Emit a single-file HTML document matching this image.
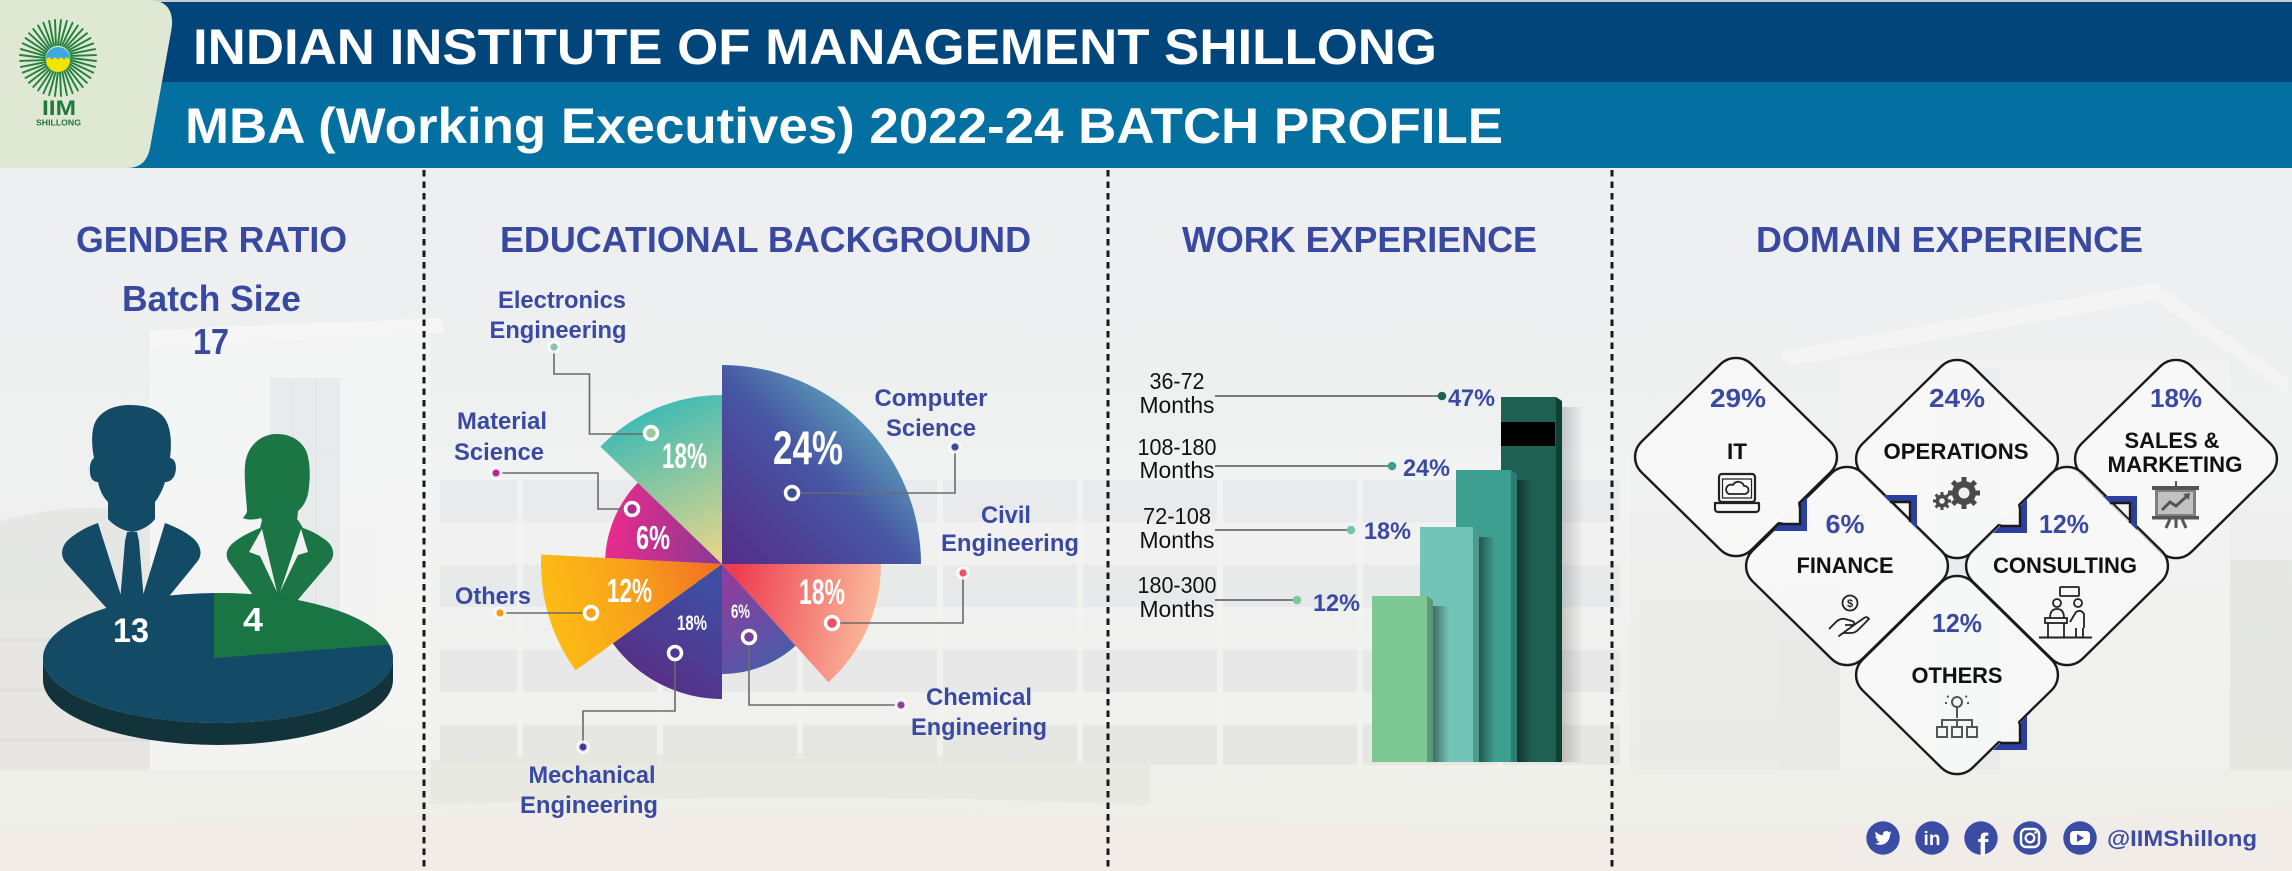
<!DOCTYPE html>
<html><head><meta charset="utf-8"><style>
html,body{margin:0;padding:0;background:#eeeff1;}
svg{display:block;}
text{font-family:"Liberation Sans",Arial,sans-serif;}
</style></head><body>
<svg width="2292" height="871" viewBox="0 0 2292 871" xmlns="http://www.w3.org/2000/svg">
<defs>
<linearGradient id="bg" x1="0" y1="0" x2="0" y2="1">
<stop offset="0" stop-color="#edeef1"/><stop offset="0.55" stop-color="#eff0f0"/><stop offset="0.86" stop-color="#ecece7"/><stop offset="1" stop-color="#f1ece9"/>
</linearGradient>
<linearGradient id="gCS" gradientUnits="userSpaceOnUse" x1="905" y1="390" x2="735" y2="560"><stop offset="0" stop-color="#68c5c3"/><stop offset="0.5" stop-color="#4655a4"/><stop offset="1" stop-color="#55308a"/></linearGradient>
<linearGradient id="gCivil" gradientUnits="userSpaceOnUse" x1="730" y1="600" x2="880" y2="625"><stop offset="0" stop-color="#ee3d4f"/><stop offset="1" stop-color="#fbbf9f"/></linearGradient>
<linearGradient id="gChem" gradientUnits="userSpaceOnUse" x1="730" y1="580" x2="800" y2="665"><stop offset="0" stop-color="#8e3e9c"/><stop offset="1" stop-color="#4060ab"/></linearGradient>
<linearGradient id="gMech" gradientUnits="userSpaceOnUse" x1="712" y1="590" x2="640" y2="695"><stop offset="0" stop-color="#3f4ea3"/><stop offset="1" stop-color="#5b2a83"/></linearGradient>
<linearGradient id="gOth" gradientUnits="userSpaceOnUse" x1="545" y1="620" x2="720" y2="575"><stop offset="0" stop-color="#fdbd14"/><stop offset="0.5" stop-color="#f8a21b"/><stop offset="1" stop-color="#f26f22"/></linearGradient>
<linearGradient id="gMat" gradientUnits="userSpaceOnUse" x1="605" y1="530" x2="715" y2="540"><stop offset="0" stop-color="#ec2a8c"/><stop offset="1" stop-color="#8e3a92"/></linearGradient>
<linearGradient id="gElec" gradientUnits="userSpaceOnUse" x1="640" y1="410" x2="712" y2="560"><stop offset="0" stop-color="#3dbab4"/><stop offset="1" stop-color="#e3d68a"/></linearGradient>
<linearGradient id="sh" x1="0" y1="0" x2="1" y2="0"><stop offset="0" stop-color="#000" stop-opacity="0.45"/><stop offset="1" stop-color="#000" stop-opacity="0"/></linearGradient>
<linearGradient id="sh2" x1="0" y1="0" x2="1" y2="0"><stop offset="0" stop-color="#000" stop-opacity="0.18"/><stop offset="1" stop-color="#000" stop-opacity="0"/></linearGradient>
<line id="ray" x1="58" y1="45" x2="61" y2="20" stroke="#22803f" stroke-width="1.9" stroke-linecap="round"/>
<rect id="dia" x="-77.8" y="-77.8" width="155.6" height="155.6" rx="22"/>
</defs>

<!-- background -->
<rect width="2292" height="871" fill="url(#bg)"/>
<g opacity="0.55">
<path d="M0,522 Q70,500 150,512 L150,610 L0,610 Z" fill="#dfe2dc"/>
<rect x="0" y="600" width="150" height="180" fill="#e3e2df"/>
<g stroke="#d6d6d3" stroke-width="3"><line x1="0" y1="640" x2="150" y2="640"/><line x1="0" y1="690" x2="150" y2="690"/><line x1="0" y1="740" x2="150" y2="740"/></g>
</g>
<g opacity="0.7">
<polygon points="150,345 430,330 430,790 150,790" fill="#f6f6f6"/>
<polygon points="150,330 440,318 445,332 150,348" fill="#fafafa"/>
<rect x="270" y="378" width="70" height="330" fill="#e6e9ec"/>
<g stroke="#dde1e5" stroke-width="1.5"><line x1="293" y1="378" x2="293" y2="708"/><line x1="316" y1="378" x2="316" y2="708"/><line x1="270" y1="450" x2="340" y2="450"/><line x1="270" y1="530" x2="340" y2="530"/><line x1="270" y1="610" x2="340" y2="610"/></g>
</g>
<g opacity="0.5">
<rect x="430" y="450" width="1200" height="330" fill="#f4f4f4"/>
<rect x="440" y="480" width="1180" height="42" fill="#e4e6e9"/>
<rect x="440" y="565" width="1180" height="42" fill="#e4e6e9"/>
<rect x="440" y="650" width="1180" height="42" fill="#e3e5e6"/>
<rect x="440" y="725" width="1180" height="40" fill="#e2e3df"/>
<g stroke="#f6f6f6" stroke-width="6">
<line x1="520" y1="470" x2="520" y2="770"/><line x1="660" y1="470" x2="660" y2="770"/><line x1="800" y1="470" x2="800" y2="770"/><line x1="940" y1="470" x2="940" y2="770"/><line x1="1080" y1="470" x2="1080" y2="770"/><line x1="1220" y1="470" x2="1220" y2="770"/><line x1="1360" y1="470" x2="1360" y2="770"/><line x1="1500" y1="470" x2="1500" y2="770"/>
</g>
</g>
<g opacity="0.6">
<polygon points="1780,352 2155,283 2288,380 2288,394 2155,300 1790,366" fill="#f8f8f8"/>
<rect x="1840" y="360" width="390" height="420" fill="#f4f4f4"/>
<rect x="1935" y="368" width="65" height="412" fill="#e7eaed"/>
<rect x="2230" y="560" width="62" height="220" fill="#e1e3dd"/>
<rect x="1640" y="600" width="200" height="180" fill="#e8e9e8"/>
</g>
<path d="M0,770 L2292,770 L2292,871 L0,871 Z" fill="#eeefe9"/>
<path d="M430,760 Q800,745 1150,765 L1150,805 Q800,790 430,805 Z" fill="#e6e9df" opacity="0.8"/>
<path d="M0,830 Q600,800 1200,820 T2292,805 L2292,871 L0,871 Z" fill="#f2ece9"/>

<!-- header -->
<rect x="0" y="0" width="2292" height="83" fill="#02457a"/>
<rect x="0" y="82" width="2292" height="86" fill="#0470a2"/>
<rect x="0" y="0" width="2292" height="2" fill="#c4ced8"/>
<path d="M0,0 H148 C168,0 175,12 171,32 L150,148 C147,162 140,168 126,168 H0 Z" fill="#dfe8d2"/>
<g>
<use href="#ray" transform="rotate(0 58 58)"/><use href="#ray" transform="rotate(9 58 58)"/><use href="#ray" transform="rotate(18 58 58)"/><use href="#ray" transform="rotate(27 58 58)"/><use href="#ray" transform="rotate(36 58 58)"/><use href="#ray" transform="rotate(45 58 58)"/><use href="#ray" transform="rotate(54 58 58)"/><use href="#ray" transform="rotate(63 58 58)"/><use href="#ray" transform="rotate(72 58 58)"/><use href="#ray" transform="rotate(81 58 58)"/><use href="#ray" transform="rotate(90 58 58)"/><use href="#ray" transform="rotate(99 58 58)"/><use href="#ray" transform="rotate(108 58 58)"/><use href="#ray" transform="rotate(117 58 58)"/><use href="#ray" transform="rotate(126 58 58)"/><use href="#ray" transform="rotate(135 58 58)"/><use href="#ray" transform="rotate(144 58 58)"/><use href="#ray" transform="rotate(153 58 58)"/><use href="#ray" transform="rotate(162 58 58)"/><use href="#ray" transform="rotate(171 58 58)"/><use href="#ray" transform="rotate(180 58 58)"/><use href="#ray" transform="rotate(189 58 58)"/><use href="#ray" transform="rotate(198 58 58)"/><use href="#ray" transform="rotate(207 58 58)"/><use href="#ray" transform="rotate(216 58 58)"/><use href="#ray" transform="rotate(225 58 58)"/><use href="#ray" transform="rotate(234 58 58)"/><use href="#ray" transform="rotate(243 58 58)"/><use href="#ray" transform="rotate(252 58 58)"/><use href="#ray" transform="rotate(261 58 58)"/><use href="#ray" transform="rotate(270 58 58)"/><use href="#ray" transform="rotate(279 58 58)"/><use href="#ray" transform="rotate(288 58 58)"/><use href="#ray" transform="rotate(297 58 58)"/><use href="#ray" transform="rotate(306 58 58)"/><use href="#ray" transform="rotate(315 58 58)"/><use href="#ray" transform="rotate(324 58 58)"/><use href="#ray" transform="rotate(333 58 58)"/><use href="#ray" transform="rotate(342 58 58)"/><use href="#ray" transform="rotate(351 58 58)"/>
</g>
<circle cx="58" cy="59" r="12" fill="#3da9e2"/>
<path d="M46,60 Q49,55 52,60 Q55,55 58,60 Q61,55 64,60 Q67,55 70,60 A12,12 0 0 1 46,60 Z" fill="#f3e500"/>
<text x="42" y="115" font-size="21" font-weight="bold" fill="#1f7a3c" textLength="34" lengthAdjust="spacingAndGlyphs">IIM</text>
<text x="36" y="125.5" font-size="8.5" font-weight="bold" fill="#1f7a3c" textLength="45" lengthAdjust="spacingAndGlyphs">SHILLONG</text>
<text x="193" y="64" font-size="50" font-weight="bold" fill="#ffffff" textLength="1244" lengthAdjust="spacingAndGlyphs">INDIAN INSTITUTE OF MANAGEMENT SHILLONG</text>
<text x="185" y="143" font-size="50" font-weight="bold" fill="#ffffff" textLength="1318" lengthAdjust="spacingAndGlyphs">MBA (Working Executives) 2022-24 BATCH PROFILE</text>

<!-- separators -->
<g stroke="#1a1a1a" stroke-width="3" stroke-dasharray="6.5 5">
<line x1="424" y1="170" x2="424" y2="871"/>
<line x1="1108" y1="170" x2="1108" y2="871"/>
<line x1="1612" y1="170" x2="1612" y2="871"/>
</g>

<!-- section titles -->
<g font-size="36" font-weight="bold" fill="#3949a0">
<text x="76" y="252" textLength="271" lengthAdjust="spacingAndGlyphs">GENDER RATIO</text>
<text x="500" y="252" textLength="531" lengthAdjust="spacingAndGlyphs">EDUCATIONAL BACKGROUND</text>
<text x="1182" y="252" textLength="355" lengthAdjust="spacingAndGlyphs">WORK EXPERIENCE</text>
<text x="1756" y="252" textLength="387" lengthAdjust="spacingAndGlyphs">DOMAIN EXPERIENCE</text>
<text x="122" y="311" textLength="179" lengthAdjust="spacingAndGlyphs">Batch Size</text>
<text x="193" y="354" textLength="36" lengthAdjust="spacingAndGlyphs">17</text>
</g>

<!-- gender silhouettes -->
<g fill="#134a65">
<path d="M130,405 C150,405 164,412 168,425 C172,436 171,450 170,458 C176,459 177,467 175,474 C173,480 169,482 165,482 C162,492 158,498 155,502 L155,519 C150,526 140,531 132,532 C124,531 114,526 108,519 L108,502 C104,498 100,492 98,482 C93,482 90,478 90,472 C89,464 92,459 94,458 C92,448 91,436 94,425 C99,412 112,405 130,405 Z"/>
<path d="M98,523 L124,605 L110,612 L66,563 C60,556 61,547 68,540 C76,533 86,527 98,523 Z"/>
<path d="M165,523 L140,605 L162,605 L197,562 C203,555 201,546 194,539 C186,532 176,527 165,523 Z"/>
<path d="M127,532 L137,532 L139,541 L144,602 L132,610 L120,602 L125,541 Z"/>
</g>
<g fill="#1b7544">
<path d="M277,434 C292,434 303,442 307,453 C311,466 310,482 308,494 C306,502 302,508 298,511 L297,522 L263,522 L261,518 C254,520 246,520 243,518 C245,515 247,514 247,510 C246,495 244,480 245,466 C246,448 259,434 277,434 Z"/>
<path d="M262,520 L298,520 L303,528 C312,531 321,536 328,542 C334,548 335,556 330,562 L296,602 L258,602 L229,562 C225,556 226,549 233,543 C240,537 250,532 260,528 Z"/>
</g>
<g fill="#f1f1f1">
<polygon points="262,529 249,552 260,556 277,592"/>
<polygon points="301,529 308,552 298,555 280,592"/>
</g>
<!-- gender pie -->
<path d="M43,658 L43,680 A175,65 0 0 0 393,680 L393,658 A175,65 0 0 1 43,658 Z" fill="#13333b"/>
<ellipse cx="218" cy="658" rx="175" ry="65" fill="#134b66"/>
<path d="M214,658 L214,593.05 A175,65 0 0 1 389,644.5 Z" fill="#1a7544"/>
<text x="113" y="642" font-size="34" font-weight="bold" fill="#ffffff" textLength="36" lengthAdjust="spacingAndGlyphs">13</text>
<text x="243" y="631" font-size="33" font-weight="bold" fill="#ffffff" textLength="20" lengthAdjust="spacingAndGlyphs">4</text>

<!-- educational pie -->
<path d="M722,564 L722,365 A199,199 0 0 1 921,564 Z" fill="url(#gCS)"/>
<path d="M722,564 L881,564 A159,159 0 0 1 828.4,682.2 Z" fill="url(#gCivil)"/>
<path d="M722,564 L795.6,645.7 A110,110 0 0 1 722,674 Z" fill="url(#gChem)"/>
<path d="M722,564 L722,699 A135,135 0 0 1 612.8,643.4 Z" fill="url(#gMech)"/>
<path d="M722,564 L575.6,670.4 A181,181 0 0 1 541.25,554.5 Z" fill="url(#gOth)"/>
<path d="M722,564 L605.2,557.9 A117,117 0 0 1 637.8,482.7 Z" fill="url(#gMat)"/>
<path d="M722,564 L600.4,446.6 A169,169 0 0 1 722,395 Z" fill="url(#gElec)"/>

<!-- connectors -->
<g fill="none" stroke="#6a6a6a" stroke-width="1.6">
<polyline points="554,347 554,374 589.5,374 589.5,434 651,434"/>
<polyline points="496,473 598,473 598,509 632,509"/>
<polyline points="500,613 591,613"/>
<polyline points="675,653 675,711 583,711 583,747"/>
<polyline points="749,637 749,705 901,705"/>
<polyline points="832,623 963,623 963,573"/>
<polyline points="792,493 955,493 955,447"/>
</g>
<g stroke="#ffffff" stroke-width="3.5">
<circle cx="651" cy="433" r="6.5" fill="#9fc79c"/>
<circle cx="632" cy="509" r="6.5" fill="#a8308e"/>
<circle cx="591" cy="613" r="6.5" fill="#f5a020"/>
<circle cx="675" cy="653" r="6.5" fill="#4a3a98"/>
<circle cx="749" cy="637" r="6.5" fill="#7a3f9c"/>
<circle cx="832" cy="623" r="6.5" fill="#ee5060"/>
<circle cx="792" cy="493" r="6.5" fill="#3d4f95"/>
</g>
<g stroke="#ffffff" stroke-opacity="0.85" stroke-width="3">
<circle cx="554" cy="347" r="5" fill="#86c6a4"/>
<circle cx="496" cy="473" r="5" fill="#b52a90"/>
<circle cx="500" cy="613" r="5" fill="#f39c1a"/>
<circle cx="583" cy="747" r="5" fill="#40399a"/>
<circle cx="901" cy="705" r="5" fill="#8b3f9c"/>
<circle cx="963" cy="573" r="5" fill="#ee4f5f"/>
<circle cx="955" cy="447" r="5" fill="#3a4d8f"/>
</g>
<!-- pie percents -->
<g font-weight="bold" fill="#ffffff">
<text x="773" y="464" font-size="47" textLength="70" lengthAdjust="spacingAndGlyphs">24%</text>
<text x="662" y="468" font-size="35" textLength="45" lengthAdjust="spacingAndGlyphs">18%</text>
<text x="636" y="549" font-size="33" textLength="34" lengthAdjust="spacingAndGlyphs">6%</text>
<text x="607" y="602" font-size="33" textLength="45" lengthAdjust="spacingAndGlyphs">12%</text>
<text x="677" y="630" font-size="21" textLength="30" lengthAdjust="spacingAndGlyphs">18%</text>
<text x="731" y="618" font-size="19" textLength="19" lengthAdjust="spacingAndGlyphs">6%</text>
<text x="799" y="604" font-size="35" textLength="46" lengthAdjust="spacingAndGlyphs">18%</text>
</g>
<!-- edu labels -->
<g font-size="24" font-weight="bold" fill="#3a4aa2" text-anchor="middle">
<text x="562" y="308" textLength="128" lengthAdjust="spacingAndGlyphs">Electronics</text>
<text x="558" y="338" textLength="137" lengthAdjust="spacingAndGlyphs">Engineering</text>
<text x="502" y="429" textLength="90" lengthAdjust="spacingAndGlyphs">Material</text>
<text x="499" y="460" textLength="90" lengthAdjust="spacingAndGlyphs">Science</text>
<text x="493" y="604" textLength="76" lengthAdjust="spacingAndGlyphs">Others</text>
<text x="592" y="783" textLength="127" lengthAdjust="spacingAndGlyphs">Mechanical</text>
<text x="589" y="813" textLength="138" lengthAdjust="spacingAndGlyphs">Engineering</text>
<text x="979" y="705" textLength="106" lengthAdjust="spacingAndGlyphs">Chemical</text>
<text x="979" y="735" textLength="136" lengthAdjust="spacingAndGlyphs">Engineering</text>
<text x="1006" y="523" textLength="50" lengthAdjust="spacingAndGlyphs">Civil</text>
<text x="1010" y="551" textLength="138" lengthAdjust="spacingAndGlyphs">Engineering</text>
<text x="931" y="406" textLength="113" lengthAdjust="spacingAndGlyphs">Computer</text>
<text x="931" y="436" textLength="90" lengthAdjust="spacingAndGlyphs">Science</text>
</g>

<!-- work experience bars -->
<rect x="1562" y="407" width="22" height="355" fill="url(#sh2)"/>
<rect x="1501" y="397" width="55" height="365" fill="#1e6152"/>
<polygon points="1556,397 1562,401 1562,762 1556,762" fill="#0c4133"/>
<rect x="1501" y="422" width="54" height="24" fill="#000000"/>
<rect x="1517" y="480" width="16" height="282" fill="url(#sh)"/>
<rect x="1456" y="470" width="55" height="292" fill="#3d9f8f"/>
<polygon points="1511,470 1517,474 1517,762 1511,762" fill="#2a7d70"/>
<rect x="1479" y="537" width="16" height="225" fill="url(#sh)"/>
<rect x="1420" y="527" width="53" height="235" fill="#72c5b6"/>
<polygon points="1473,527 1479,531 1479,762 1473,762" fill="#4f9a8d"/>
<rect x="1433" y="606" width="16" height="156" fill="url(#sh)"/>
<rect x="1372" y="596" width="55" height="166" fill="#7dc794"/>
<polygon points="1427,596 1433,600 1433,762 1427,762" fill="#5a9a74"/>

<g stroke="#555" stroke-width="1.6">
<line x1="1215" y1="396" x2="1442" y2="396"/>
<line x1="1215" y1="466" x2="1392" y2="466"/>
<line x1="1215" y1="530" x2="1351" y2="530"/>
<line x1="1215" y1="600" x2="1297" y2="600"/>
</g>
<circle cx="1442" cy="396" r="4.3" fill="#1e6152"/>
<circle cx="1392" cy="466" r="4.3" fill="#3d9f8f"/>
<circle cx="1351" cy="530" r="4.3" fill="#72c5b6"/>
<circle cx="1297" cy="600" r="4.3" fill="#7dc794"/>
<g font-size="23" fill="#111" text-anchor="middle">
<text x="1177" y="389" textLength="55" lengthAdjust="spacingAndGlyphs">36-72</text>
<text x="1177" y="413" textLength="75" lengthAdjust="spacingAndGlyphs">Months</text>
<text x="1177" y="455" textLength="79" lengthAdjust="spacingAndGlyphs">108-180</text>
<text x="1177" y="478" textLength="75" lengthAdjust="spacingAndGlyphs">Months</text>
<text x="1177" y="524" textLength="68" lengthAdjust="spacingAndGlyphs">72-108</text>
<text x="1177" y="548" textLength="75" lengthAdjust="spacingAndGlyphs">Months</text>
<text x="1177" y="593" textLength="79" lengthAdjust="spacingAndGlyphs">180-300</text>
<text x="1177" y="617" textLength="75" lengthAdjust="spacingAndGlyphs">Months</text>
</g>
<g font-size="24" font-weight="bold" fill="#3a4aa2">
<text x="1448" y="406" textLength="47" lengthAdjust="spacingAndGlyphs">47%</text>
<text x="1403" y="476" textLength="47" lengthAdjust="spacingAndGlyphs">24%</text>
<text x="1364" y="539" textLength="47" lengthAdjust="spacingAndGlyphs">18%</text>
<text x="1313" y="611" textLength="47" lengthAdjust="spacingAndGlyphs">12%</text>
</g>

<!-- domain diamonds -->
<g fill="#fafafa" fill-opacity="0.78" stroke="#1a1a1a" stroke-width="2.4">
<use href="#dia" transform="translate(1736,457) scale(1,0.982) rotate(45)"/>
<use href="#dia" transform="translate(1957,459) scale(1,0.982) rotate(45)"/>
<use href="#dia" transform="translate(2176,459) scale(1,0.982) rotate(45)"/>
<use href="#dia" transform="translate(1847,566) scale(1,0.982) rotate(45)"/>
<use href="#dia" transform="translate(2067,566) scale(1,0.982) rotate(45)"/>
<use href="#dia" transform="translate(1957,675) scale(1,0.982) rotate(45)"/>
</g>
<!-- notches -->
<g fill="#f7f7f7">
<polygon points="1778,522 1800,524 1798,502"/>
<polygon points="1892,500 1910,502 1912,520"/>
<polygon points="1998,524 2020,526 2018,504"/>
<polygon points="2112,501 2130,503 2132,521"/>
<polygon points="1998,741 2020,743 2018,721"/>
</g>
<g fill="#2b3f9e">
<polygon points="1780,524 1800,524 1800,504 1807,497 1807,531 1773,531"/>
<polygon points="1890,502 1910,502 1910,522 1917,529 1917,495 1883,495"/>
<polygon points="2000,526 2020,526 2020,506 2027,499 2027,533 1993,533"/>
<polygon points="2110,503 2130,503 2130,523 2137,530 2137,496 2103,496"/>
<polygon points="2000,743 2020,743 2020,723 2027,716 2027,750 1993,750"/>
</g>
<g fill="none" stroke="#1a1a1a" stroke-width="2.4">
<polyline points="1780,524 1800,524 1800,504"/>
<polyline points="1890,502 1910,502 1910,522"/>
<polyline points="2000,526 2020,526 2020,506"/>
<polyline points="2110,503 2130,503 2130,523"/>
<polyline points="2000,743 2020,743 2020,723"/>
</g>
<g font-size="26" font-weight="bold" fill="#3a4aa2" text-anchor="middle">
<text x="1738" y="407" textLength="56" lengthAdjust="spacingAndGlyphs">29%</text>
<text x="1957" y="407" textLength="56" lengthAdjust="spacingAndGlyphs">24%</text>
<text x="2176" y="407" textLength="52" lengthAdjust="spacingAndGlyphs">18%</text>
<text x="1845" y="533" textLength="39" lengthAdjust="spacingAndGlyphs">6%</text>
<text x="2064" y="533" textLength="50" lengthAdjust="spacingAndGlyphs">12%</text>
<text x="1957" y="632" textLength="50" lengthAdjust="spacingAndGlyphs">12%</text>
</g>
<g font-size="22" font-weight="bold" fill="#111" text-anchor="middle">
<text x="1737" y="459" textLength="20" lengthAdjust="spacingAndGlyphs">IT</text>
<text x="1956" y="459" textLength="145" lengthAdjust="spacingAndGlyphs">OPERATIONS</text>
<text x="2172" y="448" textLength="95" lengthAdjust="spacingAndGlyphs">SALES &amp;</text>
<text x="2175" y="472" textLength="135" lengthAdjust="spacingAndGlyphs">MARKETING</text>
<text x="1845" y="573" textLength="97" lengthAdjust="spacingAndGlyphs">FINANCE</text>
<text x="2065" y="573" textLength="144" lengthAdjust="spacingAndGlyphs">CONSULTING</text>
<text x="1957" y="683" textLength="91" lengthAdjust="spacingAndGlyphs">OTHERS</text>
</g>
<!-- domain icons -->
<g fill="none" stroke="#222" stroke-width="2.2" stroke-linejoin="round">
<rect x="1719" y="474" width="36" height="28" rx="3"/>
<rect x="1722.5" y="479" width="29" height="19" stroke-width="1.2"/>
<path d="M1729,494 h16 a4,4 0 0 0 -1,-8 a6,6 0 0 0 -11,-1 a4,4 0 0 0 -4,9 z" stroke-width="1.8"/>
<path d="M1715,503 h44 l0,6 a3,3 0 0 1 -3,3 h-38 a3,3 0 0 1 -3,-3 z"/>
</g>
<g fill="#4a4a4a">
<circle cx="1964" cy="493" r="12"/>
<g stroke="#4a4a4a" stroke-width="5">
<line x1="1964" y1="477" x2="1964" y2="509"/><line x1="1948" y1="493" x2="1980" y2="493"/>
<line x1="1952.7" y1="481.7" x2="1975.3" y2="504.3"/><line x1="1975.3" y1="481.7" x2="1952.7" y2="504.3"/>
</g>
<circle cx="1964" cy="493" r="5.5" fill="#f0f0f0"/>
<circle cx="1942" cy="501" r="6.5"/>
<g stroke="#4a4a4a" stroke-width="3">
<line x1="1942" y1="492" x2="1942" y2="510"/><line x1="1933" y1="501" x2="1951" y2="501"/>
<line x1="1935.6" y1="494.6" x2="1948.4" y2="507.4"/><line x1="1948.4" y1="494.6" x2="1935.6" y2="507.4"/>
</g>
<circle cx="1942" cy="501" r="2.8" fill="#f0f0f0"/>
</g>
<g>
<rect x="2175" y="481" width="2" height="5" fill="#555"/>
<rect x="2152" y="486" width="47" height="4" fill="#555"/>
<rect x="2155" y="490" width="41" height="26" fill="#7f7f7f"/>
<rect x="2158" y="492" width="35" height="22" fill="#c2c2c2"/>
<polyline points="2162,510 2170,502 2176,506 2187,496" fill="none" stroke="#555" stroke-width="3"/>
<polygon points="2183,494 2190,493 2189,500" fill="#555"/>
<rect x="2152" y="516" width="47" height="3.5" fill="#555"/>
<g stroke="#555" stroke-width="3"><line x1="2170" y1="519" x2="2166" y2="528"/><line x1="2176" y1="519" x2="2176" y2="528"/><line x1="2182" y1="519" x2="2186" y2="528"/></g>
</g>
<g fill="none" stroke="#222" stroke-width="1.8" stroke-linejoin="round">
<circle cx="1850" cy="603" r="7.5"/>
<path d="M1829,629 l7,-7 q4,-4 9,-3 l7,2 q3,1 2,4 l-9,0 m9,0 l10,-7 q3,-2 5,1 l-11,11 q-3,3 -7,3 h-8 l-4,3 z"/>
</g>
<text x="1850" y="607" font-size="11" font-weight="bold" fill="#222" text-anchor="middle">$</text>
<g fill="none" stroke="#222" stroke-width="1.8">
<rect x="2060" y="587" width="19" height="9" rx="1"/>
<circle cx="2057" cy="603" r="4"/>
<circle cx="2078" cy="603" r="4"/>
<path d="M2050,618 q0,-9 7,-9 q7,0 7,9"/>
<path d="M2070,622 l6,-10 q5,-3 8,2 l0,14"/>
<rect x="2045" y="618" width="22" height="5"/>
<line x1="2048" y1="623" x2="2048" y2="637"/><line x1="2064" y1="623" x2="2064" y2="637"/>
<line x1="2076" y1="628" x2="2076" y2="637"/><line x1="2083" y1="628" x2="2083" y2="637"/>
<line x1="2039" y1="637.5" x2="2092" y2="637.5" stroke-width="2"/>
</g>
<g fill="none" stroke="#555" stroke-width="2">
<circle cx="1957" cy="702" r="5"/>
<line x1="1957" y1="707" x2="1957" y2="718"/>
<polyline points="1942,727 1942,720 1972,720 1972,727"/>
<line x1="1957" y1="720" x2="1957" y2="727"/>
<rect x="1937" y="727" width="10" height="10"/>
<rect x="1952" y="727" width="10" height="10"/>
<rect x="1967" y="727" width="10" height="10"/>
<g stroke-dasharray="2 2"><line x1="1947" y1="696" x2="1950" y2="698"/><line x1="1967" y1="696" x2="1964" y2="698"/><line x1="1945" y1="703" x2="1949" y2="703"/><line x1="1969" y1="703" x2="1965" y2="703"/></g>
</g>

<!-- social -->
<g fill="#3a4ca3">
<circle cx="1883" cy="838" r="16.7"/>
<circle cx="1932" cy="838" r="16.7"/>
<circle cx="1981" cy="838" r="16.7"/>
<circle cx="2030" cy="838" r="16.7"/>
<circle cx="2080" cy="838" r="16.7"/>
</g>
<path transform="translate(1874,829) scale(0.75)" fill="#fff" d="M23.6,4.9c-0.8,0.4-1.7,0.6-2.7,0.7c1-0.6,1.7-1.5,2-2.6c-0.9,0.5-1.9,0.9-3,1.1c-0.9-0.9-2.1-1.5-3.4-1.5c-2.6,0-4.7,2.1-4.7,4.7c0,0.4,0,0.7,0.1,1.1C8.1,8.2,4.7,6.3,2.4,3.5C2,4.2,1.8,5,1.8,5.8c0,1.6,0.8,3,2.1,3.9c-0.8,0-1.5-0.2-2.1-0.6v0.1c0,2.3,1.6,4.1,3.7,4.6c-0.4,0.1-0.8,0.2-1.2,0.2c-0.3,0-0.6,0-0.9-0.1c0.6,1.9,2.3,3.2,4.4,3.2c-1.6,1.3-3.6,2-5.8,2c-0.4,0-0.7,0-1.1-0.1c2.1,1.3,4.5,2.1,7.1,2.1c8.6,0,13.3-7.1,13.3-13.3c0-0.2,0-0.4,0-0.6C22.3,6.6,23,5.8,23.6,4.9z"/>
<text x="1932" y="845" font-size="19" font-weight="bold" fill="#fff" text-anchor="middle">in</text>
<text x="1983" y="856" font-size="32" font-weight="bold" fill="#fff" text-anchor="middle">f</text>
<g fill="none" stroke="#fff" stroke-width="2.4">
<rect x="2021" y="829" width="18" height="18" rx="5"/>
<circle cx="2030" cy="838" r="4.3"/>
</g>
<circle cx="2035.5" cy="832.5" r="1.3" fill="#fff"/>
<rect x="2070" y="831" width="20" height="14" rx="4" fill="#fff"/>
<polygon points="2077,834 2077,842 2084,838" fill="#3a4ca3"/>
<text x="2107" y="846" font-size="22" font-weight="bold" fill="#3a4ca3" textLength="150" lengthAdjust="spacingAndGlyphs">@IIMShillong</text>
</svg>
</body></html>
